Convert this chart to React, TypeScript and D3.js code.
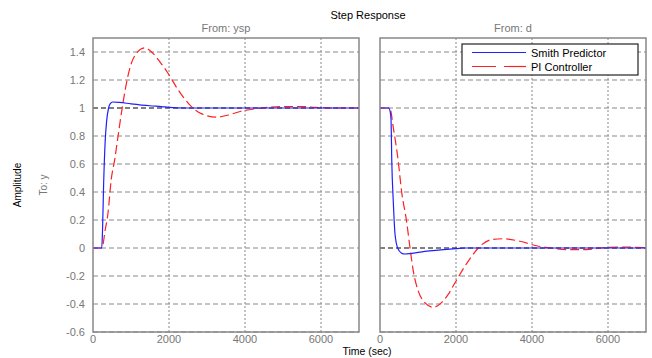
import React, { useEffect, useRef } from 'react';
import * as d3 from 'd3';

// time samples (sec)
const timeYsp = [0, 230, 250, 280, 320, 360, 410, 450, 520, 700, 1000, 1500, 1800, 2000, 2400, 3000, 7000];
const smithYsp = [0, 0, 0.12, 0.46, 0.76, 0.91, 1.0, 1.03, 1.043, 1.04, 1.03, 1.016, 1.01, 1.005, 1.0, 1.0, 1.0];

const timePiYsp = [0, 230, 260, 310, 395, 480, 570, 660, 745, 835, 920, 1010, 1140, 1360, 1580, 1760, 1970, 2240, 2590, 2850, 3250, 3560, 3870, 4300, 4600, 5000, 5500, 5850, 6300, 7000];
const piYsp = [0, 0, 0.02, 0.11, 0.25, 0.49, 0.63, 0.8, 0.96, 1.11, 1.23, 1.32, 1.39, 1.43, 1.39, 1.33, 1.25, 1.13, 1.01, 0.96, 0.935, 0.95, 0.975, 0.995, 1.005, 1.01, 1.01, 1.005, 1.0, 1.0];

const timeD = [0, 230, 270, 290, 310, 350, 395, 465, 560, 660, 800, 1180, 1600, 2000, 2240, 3000, 7000];
const smithD = [1, 1, 0.97, 0.92, 0.62, 0.33, 0.1, 0.0, -0.035, -0.043, -0.04, -0.024, -0.014, -0.005, 0, 0, 0];

const timePiD = [0, 260, 350, 480, 570, 700, 790, 880, 1010, 1180, 1400, 1620, 1800, 1970, 2320, 2680, 2940, 3250, 3680, 4120, 4470, 4900, 5440, 5800, 6300, 6700, 7000];
const piD = [1, 1, 0.86, 0.62, 0.4, 0.19, 0, -0.17, -0.31, -0.39, -0.424, -0.39, -0.33, -0.25, -0.095, 0.024, 0.06, 0.066, 0.048, 0.016, 0, -0.012, -0.012, 0, 0.007, 0.005, 0.003];

const yTicks = [-0.6, -0.4, -0.2, 0, 0.2, 0.4, 0.6, 0.8, 1, 1.2, 1.4];
const xTicks = [0, 2000, 4000, 6000];
const panelTitles = ['From: ysp', 'From: d'];
const legendLabels = ['Smith Predictor', 'PI Controller'];

const zip = (t: number[], v: number[]) => t.map((d, i) => [d, v[i]] as [number, number]);

const App = () => {
  const svgRef = useRef<SVGSVGElement>(null);

  useEffect(() => {
    const svg = d3.select(svgRef.current);
    svg.selectAll('*').remove();
    const font = 'Liberation Sans, Arial, sans-serif';
    const gray = '#777';

    const top = 38, bottom = 332;
    const y = d3.scaleLinear().domain([-0.6, 1.5]).range([bottom, top]);
    const panels = [
      { x0: 93, x1: 359, series: [zip(timeYsp, smithYsp), zip(timePiYsp, piYsp)], ss: 1 },
      { x0: 380, x1: 646, series: [zip(timeD, smithD), zip(timePiD, piD)], ss: 0 },
    ];

    svg.append('text').attr('x', 368).attr('y', 19).attr('text-anchor', 'middle')
      .attr('font-family', font).attr('font-size', 11).attr('fill', '#000').text('Step Response');
    svg.append('text').attr('x', 367).attr('y', 355).attr('text-anchor', 'middle')
      .attr('font-family', font).attr('font-size', 10.5).attr('fill', '#000').text('Time (sec)');
    svg.append('text').attr('transform', `translate(21,185) rotate(-90)`).attr('text-anchor', 'middle')
      .attr('font-family', font).attr('font-size', 10).attr('fill', '#000').text('Amplitude');
    svg.append('text').attr('transform', `translate(47,185) rotate(-90)`).attr('text-anchor', 'middle')
      .attr('font-family', font).attr('font-size', 10).attr('fill', gray).text('To: y');

    panels.forEach((p, pi) => {
      const x = d3.scaleLinear().domain([0, 7000]).range([p.x0, p.x1]);
      const g = svg.append('g');

      // grid
      g.selectAll('.hg').data(yTicks.filter(v => v !== p.ss)).enter().append('line')
        .attr('x1', p.x0).attr('x2', p.x1).attr('y1', d => y(d)).attr('y2', d => y(d))
        .attr('stroke', '#888').attr('stroke-dasharray', '5,3');
      g.selectAll('.vg').data(xTicks.filter(v => v > 0)).enter().append('line')
        .attr('x1', d => x(d)).attr('x2', d => x(d)).attr('y1', top).attr('y2', bottom)
        .attr('stroke', '#888').attr('stroke-dasharray', '2,2');

      // panel title
      g.append('text').attr('x', (p.x0 + p.x1) / 2).attr('y', 32).attr('text-anchor', 'middle')
        .attr('font-family', font).attr('font-size', 11).attr('fill', gray).text(panelTitles[pi]);

      // tick labels
      if (pi === 0) {
        g.selectAll('.yl').data(yTicks).enter().append('text')
          .attr('x', p.x0 - 8).attr('y', d => y(d) + 4).attr('text-anchor', 'end')
          .attr('font-family', font).attr('font-size', 11).attr('fill', gray).text(d => String(d));
      }
      g.selectAll('.xl').data(xTicks).enter().append('text')
        .attr('x', d => x(d)).attr('y', bottom + 11).attr('text-anchor', 'middle')
        .attr('font-family', font).attr('font-size', 11).attr('fill', gray).text(d => String(d));

      // steady state line
      g.append('line').attr('x1', p.x0).attr('x2', p.x1).attr('y1', y(p.ss)).attr('y2', y(p.ss))
        .attr('stroke', '#000').attr('stroke-dasharray', '5,3');

      const line = d3.line<[number, number]>().x(d => x(d[0])).y(d => y(d[1])).curve(d3.curveMonotoneX);
      g.append('path').datum(p.series[1]).attr('d', line).attr('fill', 'none')
        .attr('stroke', '#ff2020').attr('stroke-width', 1.2).attr('stroke-dasharray', '9,4');
      g.append('path').datum(p.series[0]).attr('d', line).attr('fill', 'none')
        .attr('stroke', '#2020ff').attr('stroke-width', 1.2);

      // frame
      g.append('rect').attr('x', p.x0).attr('y', top).attr('width', p.x1 - p.x0).attr('height', bottom - top)
        .attr('fill', 'none').attr('stroke', '#888').attr('stroke-width', 1.5);
    });

    // legend
    const lg = svg.append('g');
    lg.append('rect').attr('x', 462).attr('y', 44).attr('width', 176).attr('height', 31)
      .attr('fill', '#fff').attr('stroke', '#222').attr('stroke-width', 1.2);
    legendLabels.forEach((lbl, i) => {
      const ly = 52.5 + i * 14;
      lg.append('line').attr('x1', 472).attr('x2', 526).attr('y1', ly).attr('y2', ly)
        .attr('stroke', i === 0 ? '#2020ff' : '#ff2020').attr('stroke-width', 1.2)
        .attr('stroke-dasharray', i === 0 ? null : '24,8');
      lg.append('text').attr('x', 531).attr('y', ly + 4).attr('font-family', font).attr('font-size', 11)
        .attr('fill', '#000').text(lbl);
    });
  }, []);

  return (
    <svg ref={svgRef} width={652} height={358} style={{ position: 'absolute', left: 0, top: 0, background: '#fff' }} />
  );
};

export default App;
